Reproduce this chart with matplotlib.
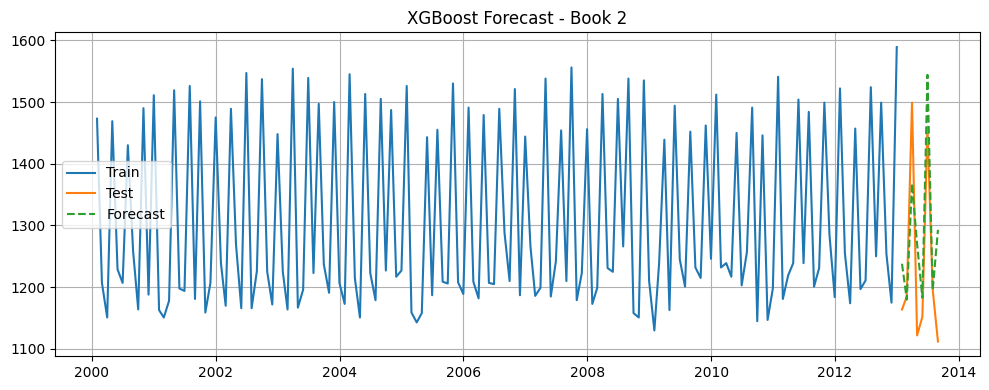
import pandas as pd
import matplotlib
matplotlib.use("Agg")
import matplotlib.pyplot as plt

# monthly sales, Jan 2000 - Dec 2012
train_values = [
    1473, 1207, 1151, 1469, 1229, 1207, 1430, 1258, 1164, 1490, 1188, 1511,
    1163, 1151, 1178, 1519, 1198, 1194, 1526, 1181, 1501, 1159, 1207, 1475,
    1239, 1170, 1489, 1269, 1166, 1547, 1166, 1226, 1537, 1225, 1172, 1448,
    1225, 1164, 1554, 1167, 1196, 1539, 1223, 1497, 1237, 1191, 1500, 1207,
    1173, 1545, 1215, 1151, 1513, 1223, 1179, 1505, 1227, 1487, 1217, 1227,
    1526, 1159, 1143, 1158, 1443, 1187, 1455, 1209, 1206, 1530, 1208, 1189,
    1491, 1209, 1182, 1479, 1207, 1205, 1489, 1288, 1210, 1521, 1187, 1444,
    1266, 1186, 1199, 1538, 1185, 1242, 1454, 1210, 1556, 1179, 1223, 1456,
    1173, 1199, 1513, 1231, 1225, 1505, 1266, 1538, 1158, 1151, 1535, 1210,
    1130, 1239, 1439, 1163, 1494, 1245, 1201, 1452, 1232, 1215, 1462, 1246,
    1512, 1232, 1239, 1217, 1450, 1203, 1257, 1491, 1145, 1446, 1147, 1198,
    1541, 1181, 1219, 1239, 1504, 1239, 1484, 1201, 1231, 1499, 1285, 1184,
    1522, 1255, 1174, 1457, 1197, 1211, 1524, 1250, 1499, 1254, 1175, 1589,
]
# Jan - Aug 2013
test_values = [1164, 1185, 1499, 1122, 1152, 1460, 1196, 1112]
forecast_values = [1238, 1180, 1368, 1270, 1183, 1544, 1195, 1293]

train_dates = pd.date_range("2000-01-31", periods=len(train_values), freq="ME")
test_dates = pd.date_range("2013-01-31", periods=len(test_values), freq="ME")


def plot_forecast():
    plt.figure(figsize=(10, 4), dpi=100)
    plt.plot(train_dates, train_values, label="Train")
    plt.plot(test_dates, test_values, label="Test")
    plt.plot(test_dates, forecast_values, label="Forecast", linestyle="--")
    plt.title("XGBoost Forecast - Book 2")
    plt.legend(loc="center left")
    plt.grid(True)
    plt.tight_layout()
    plt.savefig("out.png", dpi=100, bbox_inches="tight")


if __name__ == "__main__":
    plot_forecast()
